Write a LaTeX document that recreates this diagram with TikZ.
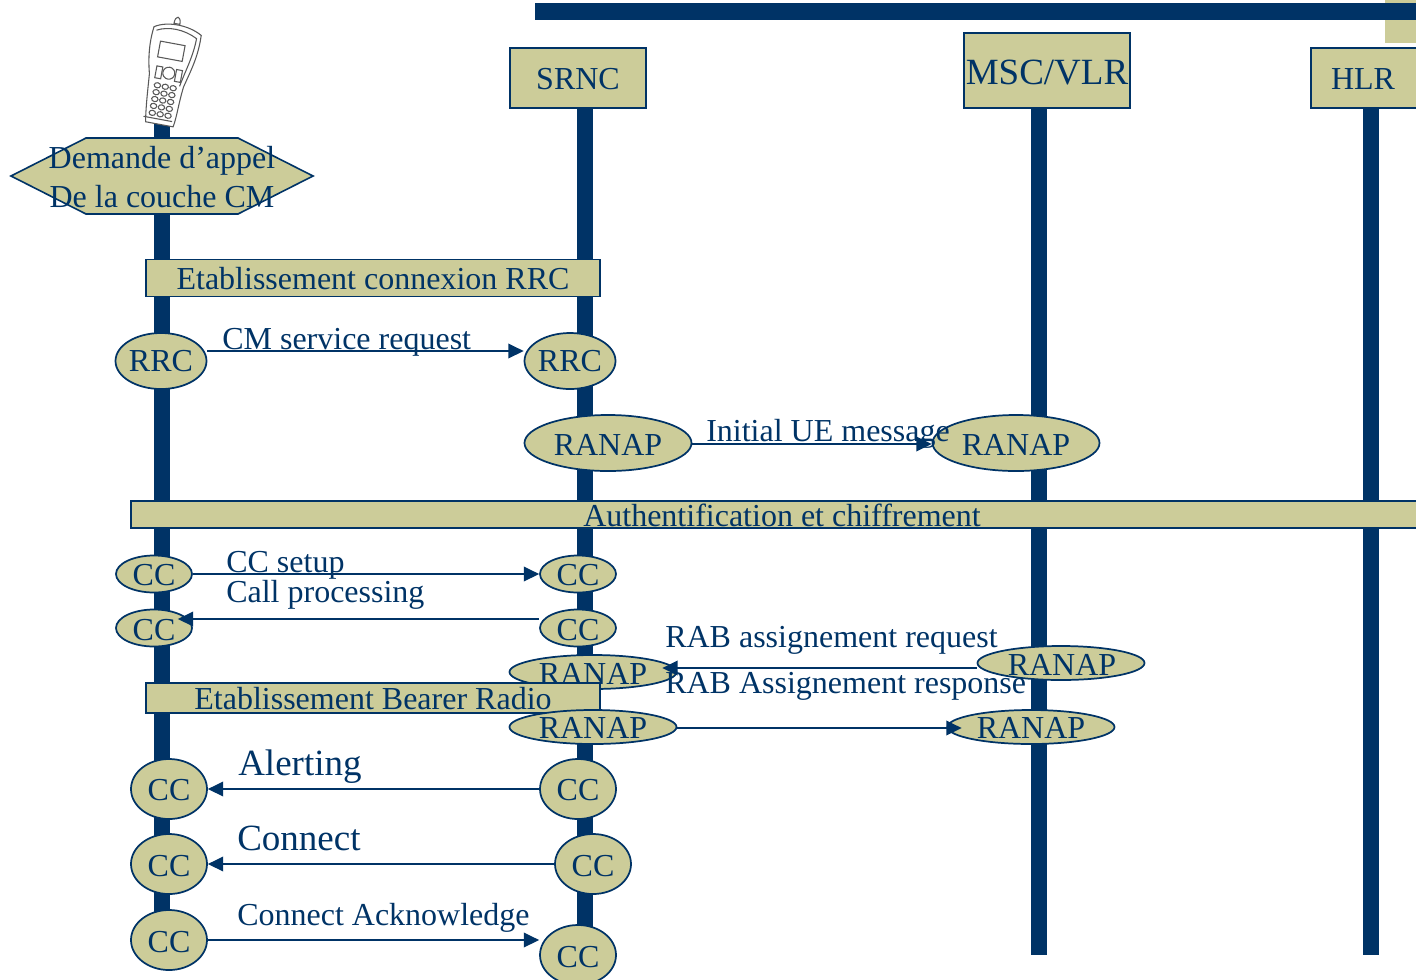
\documentclass[tikz,border=0pt]{standalone}
\usepackage{fontspec}
\setmainfont{Liberation Serif}
\usetikzlibrary{arrows.meta,shapes.geometric}
\definecolor{navy}{RGB}{0,51,102}
\definecolor{khaki}{RGB}{204,204,153}
\newcommand{\pxfont}[1]{\fontsize{\the\dimexpr#1pt*3/4\relax}{\the\dimexpr#1pt*9/10\relax}\selectfont}
\tikzset{
 x=0.75pt,y=-0.75pt,
 wh/.style 2 args={minimum width=#1*0.75,minimum height=#2*0.75},
 life/.style={fill=navy,draw=none},
 boxn/.style={draw=navy,fill=khaki,line width=1.5pt,inner sep=0pt,rectangle},
 ell/.style={draw=navy,fill=khaki,line width=1.3pt,ellipse,inner sep=0pt},
 lbl/.style={text=navy,inner sep=0pt,anchor=base west},
 ctr/.style={text=navy,inner sep=0pt,anchor=base},
 arr/.style={draw=navy,line width=1.1pt,-{Triangle[length=11.5pt,width=11pt]}},
 ph/.style={draw=black!65,line width=0.8pt,fill=white},
}
\begin{document}
\begin{tikzpicture}
\useasboundingbox (0,0) rectangle (1416,979);
% top bars
\fill[khaki] (1385,0) rectangle (1416,43);
\fill[navy] (535,3) rectangle (1416,20);
% lifelines
\fill[life] (154,120) rectangle (170,955);
\fill[life] (577,100) rectangle (593,955);
\fill[life] (1031,100) rectangle (1047,955);
\fill[life] (1363,100) rectangle (1379,955);
% phone
\begin{scope}[shift={(168,72)},rotate=-10.5]
 \path[ph] (-3,-49) .. controls (-3,-58) and (3,-58) .. (3,-49) -- cycle;
 \path[ph] (-22,-42) .. controls (-10,-50) and (12,-50) .. (26,-42)
   .. controls (27,-20) and (22,-5) .. (18,12) .. controls (16,30) and (17,42) .. (15,53)
   -- (-13,53) .. controls (-16,35) and (-17,15) .. (-18,5) .. controls (-22,-10) and (-24,-25) .. (-22,-42) -- cycle;
 \draw[ph,fill=none] (-19,-39) .. controls (-8,-45) and (8,-45) .. (22,-38) .. controls (22,-20) and (17,-5) .. (14,12) (-16,48) -- (13,48);
 \draw[ph] (-13,-29) rectangle (12,-13);
 \draw[ph] (-12,-4) rectangle (-6,8);
 \draw[ph] (8,-4) rectangle (14,8);
 \draw[ph] (1,1) circle (6);
 \foreach \r in {0,1,2,3,4}{\foreach \c in {0,1,2}{
   \draw[ph] (-8+\c*8,15+\r*7) ellipse (3.2 and 2.6);}}
\end{scope}
% header boxes
\node[boxn,wh={136}{60}] (srnc) at (578,78) {};
\node[ctr] at (578,89) {\pxfont{32}SRNC};
\node[boxn,wh={166}{75}] (msc) at (1047,70) {};
\node[ctr] at (1047,84) {\pxfont{37}MSC/VLR};
\node[boxn,wh={140}{60}] (hlr) at (1381,78) {};
\node[ctr] at (1363,89) {\pxfont{32}HLR};
% hexagon
\path[draw=navy,fill=khaki,line width=1.2pt] (11,176) -- (86,138) -- (238,138) -- (313,176) -- (238,214) -- (86,214) -- cycle;
\node[ctr] at (162,168) {\pxfont{32}Demande d’appel};
\node[ctr] at (162,207) {\pxfont{32}De la couche CM};
% rrc band
\node[boxn,line width=1.2pt,wh={454}{37}] (rrcband) at (373,278) {};
\node[ctr] at (373,289) {\pxfont{32}Etablissement connexion RRC};
% RRC
\node[ell,wh={91}{56}] (rrcA) at (161,361) {};
\node[ctr] at (161,371) {\pxfont{32}RRC};
\node[ell,wh={91}{56}] (rrcB) at (570,361) {};
\node[ctr] at (570,371) {\pxfont{32}RRC};
\draw[arr] (rrcA.east |- 0,351) -- (rrcB.west |- 0,351);
\node[lbl] at (222,349) {\pxfont{32}CM service request};
% RANAP 1
\node[ell,wh={167}{56}] (ranA) at (608,443) {};
\node[ctr] at (608,455) {\pxfont{32}RANAP};
\node[ell,wh={167}{56}] (ranB) at (1016,443) {};
\draw[arr] (ranA.east |- 0,444) -- (ranB.west |- 0,444);
\node[ctr] at (1016,455) {\pxfont{32}RANAP};
\node[lbl] at (706,441) {\pxfont{32}Initial UE message};
% auth band
\node[boxn,line width=1.2pt,wh={1300}{27}] (auth) at (781,514.5) {};
\node[ctr] at (782,526) {\pxfont{32}Authentification et chiffrement};
% CC setup
\node[ell,wh={76}{37}] (ccA) at (154,574) {};
\node[ctr] at (154,585) {\pxfont{32}CC};
\node[ell,wh={76}{37}] (ccB) at (578,574) {};
\node[ctr] at (578,585) {\pxfont{32}CC};
\draw[arr] (ccA) -- (ccB);
\node[lbl] at (226,572) {\pxfont{32}CC setup};
\node[lbl] at (226,602) {\pxfont{32}Call processing};
\node[ell,wh={76}{37}] (ccC) at (154,628) {};
\node[ctr] at (154,640) {\pxfont{32}CC};
\node[ell,wh={76}{37}] (ccD) at (578,628) {};
\node[ctr] at (578,640) {\pxfont{32}CC};
\draw[arr] (ccD.west |- 0,619) -- ([xshift=-11.25pt]ccC.east |- 0,619);
% RAB
\node[ell,wh={167}{34}] (ranC) at (593,672) {};
\node[ctr] at (593,684) {\pxfont{32}RANAP};
\node[ell,wh={167}{34}] (ranD) at (1061,663) {};
\node[ctr] at (1062,675) {\pxfont{32}RANAP};
\draw[arr] (ranD.west |- 0,668) -- ([xshift=-11.25pt]ranC.east |- 0,668);
\node[lbl] at (665,647) {\pxfont{32}RAB assignement request};
\node[lbl] at (665,693) {\pxfont{32}RAB Assignement response};
\node[boxn,line width=1.2pt,wh={454}{30}] (bearer) at (373,698) {};
\node[ctr] at (373,709) {\pxfont{32}Etablissement Bearer Radio};
\node[ell,wh={167}{34}] (ranE) at (593,727) {};
\node[ctr] at (593,738) {\pxfont{32}RANAP};
\node[ell,wh={167}{34}] (ranF) at (1031,727) {};
\draw[arr] (ranE.east |- 0,728) -- ([xshift=11.25pt]ranF.west |- 0,728);
\node[ctr] at (1031,738) {\pxfont{32}RANAP};
% bottom CC
\node[ell,wh={76}{60}] (c1) at (169,789) {};
\node[ctr] at (169,800) {\pxfont{32}CC};
\node[ell,wh={76}{60}] (c2) at (578,789) {};
\node[ctr] at (578,800) {\pxfont{32}CC};
\draw[arr] (c2) -- (c1);
\node[lbl] at (238,775) {\pxfont{37}Alerting};
\node[ell,wh={76}{60}] (c3) at (169,864) {};
\node[ctr] at (169,876) {\pxfont{32}CC};
\node[ell,wh={76}{60}] (c4) at (593,864) {};
\node[ctr] at (593,876) {\pxfont{32}CC};
\draw[arr] (c4) -- (c3);
\node[lbl] at (237,850) {\pxfont{37}Connect};
\node[ell,wh={76}{60}] (c5) at (169,940) {};
\node[ctr] at (169,952) {\pxfont{32}CC};
\node[ell,wh={76}{60}] (c6) at (578,955) {};
\node[ctr] at (578,967) {\pxfont{32}CC};
\draw[arr] (c5) -- (c6.west |- 0,940);
\node[lbl] at (237,925) {\pxfont{32}Connect Acknowledge};
\end{tikzpicture}
\end{document}
